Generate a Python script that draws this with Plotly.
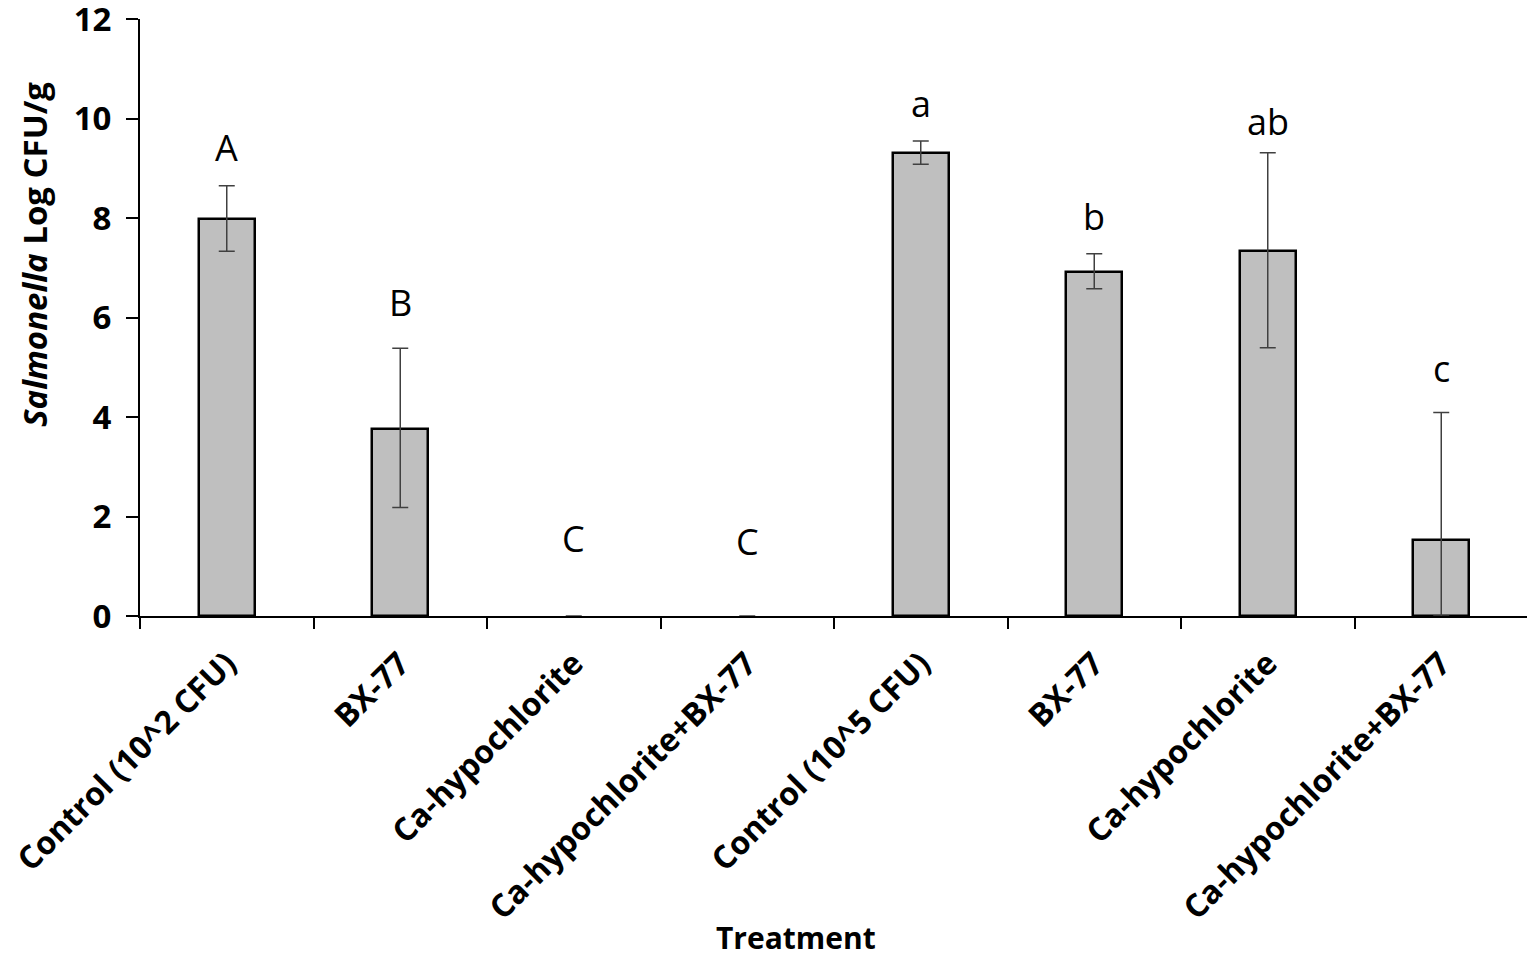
import plotly.graph_objects as go

# treatments (two inoculum levels, four treatments each)
treatments = [
    "Control (10^2 CFU)",
    "BX-77",
    "Ca-hypochlorite",
    "Ca-hypochlorite+BX-77",
    "Control (10^5 CFU)",
    "BX-77",
    "Ca-hypochlorite",
    "Ca-hypochlorite+BX-77",
]
log_cfu = [7.97, 3.76, 0.0, 0.0, 9.31, 6.92, 7.33, 1.53]
err_plus = [0.68, 1.62, 0.0, 0.0, 0.24, 0.36, 1.98, 2.56]
err_minus = [0.64, 1.58, 0.0, 0.0, 0.23, 0.34, 1.94, 1.53]
letters = ["A", "B", "C", "C", "a", "b", "ab", "c"]
letter_y = [9.42, 6.30, 1.55, 1.50, 10.30, 8.03, 9.93, 4.98]
y_ticks = [0, 2, 4, 6, 8, 10, 12]

positions = list(range(len(treatments)))
boundaries = [p - 0.5 for p in positions] + [len(treatments) - 0.5]
outline = [2.5 if v > 0 else 0 for v in log_cfu]

fig = go.Figure()
fig.add_trace(
    go.Bar(
        x=positions,
        y=log_cfu,
        width=0.32,
        marker=dict(color="#bfbfbf", line=dict(color="#000000", width=outline)),
        error_y=dict(
            type="data",
            symmetric=False,
            array=err_plus,
            arrayminus=err_minus,
            color="#404040",
            thickness=1.5,
            width=8,
        ),
        showlegend=False,
    )
)

for pos, txt, ly in zip(positions, letters, letter_y):
    fig.add_annotation(
        x=pos,
        y=ly,
        text=txt,
        showarrow=False,
        font=dict(family="Open Sans", size=36, color="#000000"),
        yanchor="middle",
    )

# axis titles sit off-centre in the original, so place them as annotations
fig.add_annotation(
    xref="paper", yref="paper", x=-0.0756, y=0.605,
    text="<b><i>Salmonella</i> Log CFU/g</b>", textangle=-90,
    showarrow=False, xanchor="center", yanchor="middle",
    font=dict(family="Open Sans", size=33, color="#000000"),
)
fig.add_annotation(
    xref="paper", yref="paper", x=0.4726, y=-0.539,
    text="<b>Treatment</b>",
    showarrow=False, xanchor="center", yanchor="middle",
    font=dict(family="Open Sans", size=30, color="#000000"),
)

x_font = dict(family="Open Sans", size=32, color="#000000", weight="bold")
y_font = dict(family="Open Sans", size=33, color="#000000", weight="bold")

fig.update_layout(
    width=1535,
    height=956,
    paper_bgcolor="white",
    plot_bgcolor="white",
    margin=dict(l=132, r=15, t=11, b=348),
    bargap=0,
    xaxis=dict(
        range=[-0.5, len(treatments) - 0.5],
        tickmode="array",
        tickvals=positions,
        ticktext=treatments,
        tickangle=-45,
        ticks="",
        ticklabelstandoff=14,
        ticklabeloverflow="allow",
        tickfont=x_font,
        showline=True,
        linecolor="#000000",
        linewidth=2,
        showgrid=False,
        zeroline=False,
        automargin=False,
    ),
    xaxis2=dict(
        overlaying="x",
        anchor="y",
        side="bottom",
        range=[-0.5, len(treatments) - 0.5],
        tickmode="array",
        tickvals=boundaries,
        ticks="outside",
        ticklen=12,
        tickwidth=2,
        tickcolor="#000000",
        showticklabels=False,
        showgrid=False,
        zeroline=False,
        automargin=False,
    ),
    yaxis=dict(
        range=[0, 12],
        tickmode="array",
        tickvals=y_ticks,
        ticks="outside",
        ticklen=12,
        tickwidth=2,
        tickcolor="#000000",
        ticklabelstandoff=8,
        ticklabeloverflow="allow",
        tickfont=y_font,
        showline=True,
        linecolor="#000000",
        linewidth=2,
        showgrid=False,
        zeroline=False,
        automargin=False,
    ),
)

# invisible trace to activate the boundary-tick axis
fig.add_trace(
    go.Scatter(x=[boundaries[0]], y=[0], xaxis="x2", mode="markers",
               marker=dict(opacity=0), showlegend=False, hoverinfo="skip")
)

fig.write_html("out.html")
